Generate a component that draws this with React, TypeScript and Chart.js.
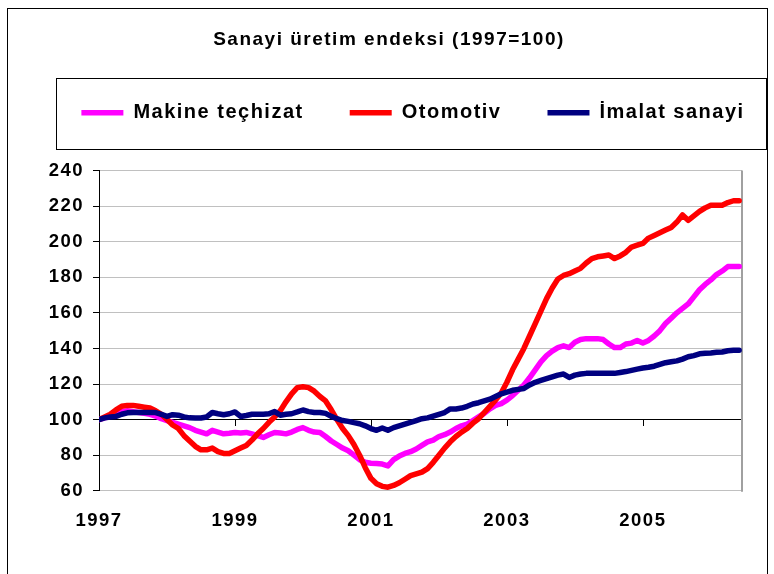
import React, { useEffect, useRef } from 'react';
import { Chart, registerables } from 'chart.js';

Chart.register(...registerables);

const FONT = "'Liberation Sans', Arial, sans-serif";

const seriesNames = ['Makine teçhizat', 'Otomotiv', 'İmalat sanayi'];
const seriesColors = ['#FF00FF', '#FF0000', '#000080'];

// Monthly index values, Jan 1997 .. Jun 2006 (1997 = 100)
const makine = [
  100, 101, 102, 103, 104.5, 105, 104.5, 104, 103.5, 103,
  102, 100.5, 99.5, 98.5, 97.5, 96.5, 95.5, 94, 93, 92,
  94, 93, 92, 92.3, 92.8, 92.5, 92.8, 92, 91, 90,
  91.5, 92.8, 92.5, 92, 93, 94.5, 95.5, 94, 93, 92.8,
  90.5, 88, 86, 84, 82.5, 80, 77.5, 76, 75.5, 75.3,
  75, 74, 77.5, 79.5, 81, 82, 83.5, 85.5, 87.5, 88.5,
  90.5, 91.5, 93, 95, 96.5, 97.5, 99.5, 101.5, 103.5, 106,
  108, 109, 111, 113.5, 116.5, 119.5, 123.5, 128, 132.5, 136,
  138.5, 140.5, 141.5, 140.5, 143.5, 145, 145.5, 145.5, 145.5, 145,
  142.5, 140.5, 140.5, 142.5, 143, 144.5, 143, 144.5, 147, 150,
  154, 157, 160, 162.5, 165, 169, 173, 176, 178.5, 181.5,
  183.5, 186, 186, 186,
];

const otomotiv = [
  100, 101.5, 103, 105.5, 107.5, 108, 108, 107.5, 107, 106.5,
  105, 103, 100, 97, 95, 91, 88, 85, 83, 83,
  84, 82, 81, 81, 82.5, 84, 85.5, 88.5, 92, 95,
  98.5, 101.5, 105, 110, 114.5, 118, 118.5, 118, 116, 113,
  110.5, 105.5, 100, 95, 91, 86, 80, 73, 67, 64,
  62.5, 62, 63, 64.5, 66.5, 68.5, 69.5, 70.5, 72.5, 76,
  80, 84, 87.5, 90.5, 93, 95, 98, 100.5, 104, 107.5,
  111, 115, 121, 128, 134, 140, 147, 154, 161, 168,
  174, 179, 181, 182, 183.5, 185, 188, 190.5, 191.5, 192,
  192.5, 190.5, 192, 194, 197, 198, 199, 202, 203.5, 205,
  206.5, 208, 211, 215, 212, 214.5, 217, 219, 220.5, 220.5,
  220.5, 222, 223, 223,
];

const imalat = [
  100, 101, 101.5, 101.8, 103, 103.8, 104, 104, 104, 104,
  104, 103, 101.8, 102.8, 102.5, 101.5, 101, 100.9, 100.9, 101.5,
  104, 103.3, 102.7, 103.3, 104.3, 101.8, 102.3, 103, 103, 103,
  103.3, 104.6, 102.5, 103, 103.3, 104.3, 105.4, 104.5, 104, 104,
  103.5, 101.8, 100.5, 99.5, 99, 98.3, 97.7, 96.5, 95, 94,
  95.3, 94, 95.5, 96.5, 97.5, 98.5, 99.5, 100.5, 101, 102,
  103, 104, 106, 106, 106.5, 107.5, 108.8, 109.5, 110.5, 111.5,
  113, 114.5, 115.5, 116.5, 117, 117.5, 119.5, 121, 122, 123,
  124, 125, 125.6, 123.7, 125, 125.6, 126, 126, 126, 126,
  126, 126, 126.5, 127, 127.7, 128.4, 129, 129.4, 130, 131,
  132, 132.5, 133, 134, 135.3, 136, 137, 137.3, 137.5, 137.8,
  138, 138.7, 139, 139,
];

const xTickMonths = [0, 24, 48, 72, 96];
const xTickLabels = ['1997', '1999', '2001', '2003', '2005'];
const yMin = 60;
const yMax = 240;
const yStep = 20;
const axisCross = 100;

const toPoints = (arr: number[]) => arr.map((v, i) => ({ x: i, y: v }));

const framePlugin = {
  id: 'frame',
  beforeUpdate(chart: any) {
    chart.ctx.letterSpacing = '1.5px';
  },
  afterLayout(chart: any) {
    if (chart.titleBlock) {
      chart.titleBlock.left += 2;
      chart.titleBlock.right += 2;
    }
    if (chart.legend) {
      chart.legend.left += 26;
      chart.legend.right += 26;
    }
  },
  beforeDraw(chart: any) {
    const ctx = chart.ctx;
    ctx.letterSpacing = '1.5px';
    ctx.save();
    ctx.strokeStyle = '#000';
    ctx.lineWidth = 1;
    ctx.strokeRect(7.5, 8.5, 760, 620);
    ctx.strokeRect(56.5, 78.5, 710, 71);
    ctx.restore();
  },
  beforeDatasetsDraw(chart: any) {
    const ctx = chart.ctx;
    const { top, bottom, right } = chart.chartArea;
    const xs = chart.scales.x;
    const y100 = chart.scales.y.getPixelForValue(axisCross);
    ctx.save();
    ctx.strokeStyle = '#000';
    ctx.lineWidth = 1;
    ctx.beginPath();
    xTickMonths.slice(1).forEach((m) => {
      const px = Math.round(xs.getPixelForValue(m)) + 0.5;
      ctx.moveTo(px, Math.round(y100));
      ctx.lineTo(px, Math.round(y100) + 6);
    });
    ctx.stroke();
    ctx.strokeStyle = '#a0a0a0';
    ctx.lineWidth = 2;
    ctx.beginPath();
    ctx.moveTo(right, top);
    ctx.lineTo(right, bottom + 1);
    ctx.stroke();
    ctx.restore();
  },
};

export default function App() {
  const ref = useRef<HTMLCanvasElement>(null);
  useEffect(() => {
    if (!ref.current) return;
    const datasets = [makine, otomotiv, imalat].map((arr, i) => ({
      label: seriesNames[i],
      data: toPoints(arr),
      borderColor: seriesColors[i],
      backgroundColor: seriesColors[i],
      borderWidth: 5.5,
      pointRadius: 0,
      pointHoverRadius: 0,
      borderCapStyle: 'round' as const,
      borderJoinStyle: 'round' as const,
      tension: 0,
      fill: false,
      order: 2 - i,
    }));
    const axisFont = { family: FONT, size: 18.5, weight: 'bold' as const };
    const chart = new Chart(ref.current, {
      type: 'line',
      data: { datasets },
      plugins: [framePlugin],
      options: {
        animation: false,
        responsive: false,
        devicePixelRatio: 1,
        layout: { padding: { left: 0, right: 0, top: 0, bottom: 23 } },
        plugins: {
          tooltip: { enabled: false },
          title: {
            display: true,
            text: 'Sanayi üretim endeksi (1997=100)',
            color: '#000',
            font: { family: FONT, size: 19, weight: 'bold' },
            padding: { top: 28.5, bottom: 5.5 },
          },
          legend: {
            display: true,
            position: 'top',
            labels: {
              usePointStyle: true,
              pointStyle: 'line',
              pointStyleWidth: 42,
              padding: 46,
              color: '#000',
              font: { family: FONT, size: 20, weight: 'bold' },
              sort: (a: any, b: any) => a.datasetIndex - b.datasetIndex,
            },
          },
        },
        scales: {
          x: {
            type: 'linear',
            min: 0,
            max: 113.5,
            grid: { display: false, drawTicks: false, tickLength: 0 },
            border: { display: false },
            ticks: {
              padding: 19,
              color: '#000',
              font: axisFont,
              maxRotation: 0,
              autoSkip: false,
              callback: (v: any) => {
                const k = xTickMonths.indexOf(Number(v));
                return k >= 0 ? xTickLabels[k] : '';
              },
            },
            afterBuildTicks: (s: any) => {
              s.ticks = xTickMonths.map((v) => ({ value: v }));
            },
          },
          spacer: {
            type: 'linear',
            position: 'top',
            display: true,
            grid: { display: false, drawTicks: false },
            border: { display: false },
            ticks: { display: false },
            afterFit: (s: any) => {
              s.height = 37.7;
            },
          },
          spacerRight: {
            type: 'linear',
            position: 'right',
            display: true,
            grid: { display: false, drawTicks: false },
            border: { display: false },
            ticks: { display: false },
            afterFit: (s: any) => {
              s.width = 32;
            },
          },
          y: {
            min: yMin,
            max: yMax,
            ticks: { stepSize: yStep, padding: 9, color: '#000', font: axisFont },
            grid: {
              color: (c: any) => (c.tick && c.tick.value === axisCross ? '#000' : '#c0c0c0'),
              tickColor: '#000',
              tickLength: 6,
              lineWidth: 1,
            },
            border: { display: true, color: '#000', width: 1 },
            afterFit: (s: any) => {
              s.width = 99;
            },
          },
        },
      } as any,
    });
    return () => chart.destroy();
  }, []);
  return (
    <div style={{ position: 'fixed', left: 0, top: 0, width: 774, height: 574, background: '#fff' }}>
      <canvas ref={ref} width={774} height={574} style={{ display: 'block' }} />
    </div>
  );
}
